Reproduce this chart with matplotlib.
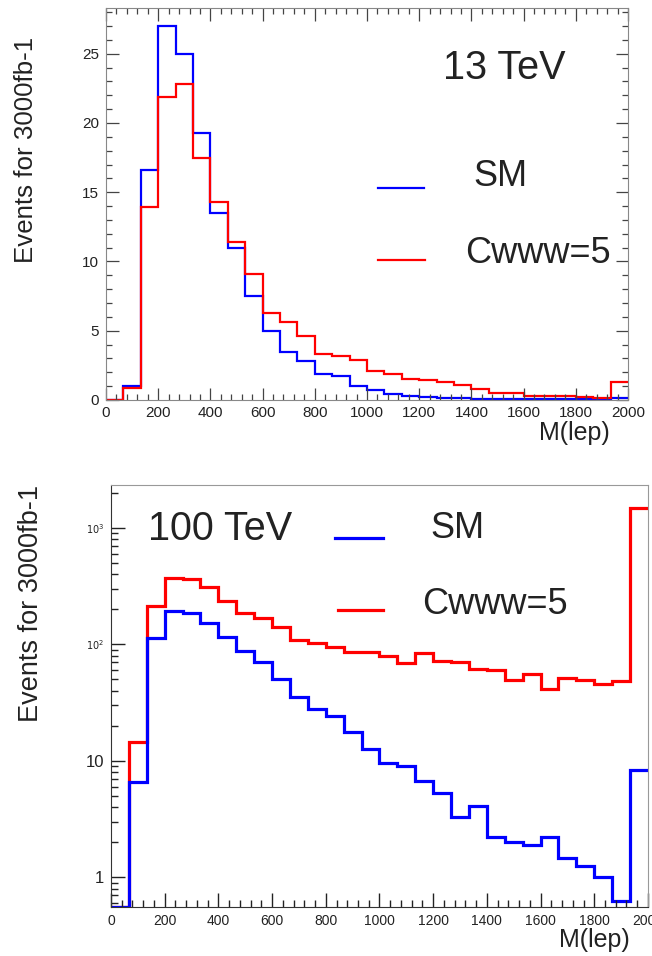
import numpy as np
import matplotlib
matplotlib.use('Agg')
from matplotlib import pyplot as plt
from matplotlib.ticker import MultipleLocator, NullFormatter

plt.rcParams['font.family'] = ['Liberation Sans', 'DejaVu Sans']

# 30 bins of M(lep) between 0 and 2000
edges = np.linspace(0, 2000, 31)

# 13 TeV, linear scale
sm_13 = [0, 1.0, 16.6, 27.0, 25.0, 19.3, 13.5, 11.0, 7.5, 5.0, 3.5, 2.8, 1.85, 1.7, 1.0,
         0.75, 0.45, 0.3, 0.22, 0.17, 0.13, 0.1, 0.08, 0.08, 0.07, 0.06, 0.05, 0.05, 0.05, 0.15]
cwww_13 = [0, 0.85, 13.9, 21.9, 22.8, 17.5, 14.3, 11.4, 9.1, 6.3, 5.6, 4.6, 3.3, 3.2, 2.9,
           2.1, 1.9, 1.55, 1.45, 1.3, 1.1, 0.8, 0.5, 0.5, 0.3, 0.3, 0.3, 0.25, 0.12, 1.3]

# 100 TeV, log scale
sm_100 = [0, 6.6, 114, 193, 187, 151, 116, 88, 70, 50, 35, 28, 24, 17.8, 12.6,
          9.5, 9.0, 6.7, 5.3, 3.3, 4.1, 2.2, 2.0, 1.9, 2.2, 1.46, 1.25, 1.0, 0.63, 8.3]
cwww_100 = [0, 14.6, 213, 373, 361, 309, 235, 185, 169, 140, 109, 103, 95, 86, 85,
            79, 69, 84, 72, 71, 61, 60, 49, 56, 41, 51, 49, 46, 48, 1470]

ylabel = 'Events for 3000fb-1'
xlabel = 'M(lep)'
txt = '#222222'
tk = '#444444'

fig = plt.figure(figsize=(6.52, 9.56), dpi=100)

# ---------------- top panel ----------------
ax1 = fig.add_axes([0.1626, 0.5816, 0.8006, 0.41])
ax1.stairs(sm_13, edges, color='#0000ff', lw=1.6, baseline=None)
ax1.stairs(cwww_13, edges, color='#ff0000', lw=1.6, baseline=None)
ax1.set_xlim(0, 2000)
ax1.set_ylim(0, 28.3)
ax1.xaxis.set_major_locator(MultipleLocator(200))
ax1.xaxis.set_minor_locator(MultipleLocator(40))
ax1.yaxis.set_major_locator(MultipleLocator(5))
ax1.yaxis.set_minor_locator(MultipleLocator(1))
ax1.tick_params(which='both', direction='in', top=True, right=True, color=tk, width=0.9)
ax1.tick_params(which='major', length=9)
ax1.tick_params(which='minor', length=4.5)
ax1.tick_params(axis='x', labelsize=11, labelcolor=txt, pad=4)
ax1.tick_params(axis='y', labelsize=11, labelcolor=txt, pad=5)
for s in ax1.spines.values():
    s.set_color('#888888')
ax1.set_ylabel(ylabel, fontsize=18.6, color=txt, ha='right', va='center')
ax1.yaxis.set_label_coords(-0.153, 0.926)
ax1.text(0.9655, -0.084, xlabel, transform=ax1.transAxes, fontsize=18, color=txt,
         ha='right', va='center')
ax1.text(0.646, 0.847, '13 TeV', transform=ax1.transAxes, fontsize=28.5, color=txt,
         ha='left', va='center')
ax1.plot([0.521, 0.609], [0.541, 0.541], transform=ax1.transAxes, color='#0000ff', lw=1.6)
ax1.plot([0.521, 0.611], [0.357, 0.357], transform=ax1.transAxes, color='#ff0000', lw=1.6)
ax1.text(0.703, 0.569, 'SM', transform=ax1.transAxes, fontsize=26, color=txt,
         ha='left', va='center')
ax1.text(0.688, 0.375, 'Cwww=5', transform=ax1.transAxes, fontsize=26, color=txt,
         ha='left', va='center')

# ---------------- bottom panel ----------------
ax2 = fig.add_axes([0.1702, 0.0513, 0.8236, 0.4414])
ymin = 0.556
# empty bins are drawn along the bottom of the frame, like ROOT does
ax2.stairs(np.where(np.array(cwww_100) > 0, cwww_100, ymin), edges, color='#ff0000',
           lw=2.3, baseline=None)
ax2.stairs(np.where(np.array(sm_100) > 0, sm_100, ymin), edges, color='#0000ff',
           lw=2.3, baseline=None)
ax2.set_yscale('log')
ax2.set_xlim(0, 2000)
ax2.set_ylim(ymin, 2330)
ax2.xaxis.set_major_locator(MultipleLocator(200))
ax2.xaxis.set_minor_locator(MultipleLocator(40))
ax2.set_yticks([1, 10, 100, 1000], labels=['1', '10', '$10^{2}$', '$10^{3}$'])
ax2.yaxis.set_minor_formatter(NullFormatter())
ax2.tick_params(which='both', direction='in', color='#222222', width=1.0)
ax2.tick_params(which='major', length=10)
ax2.tick_params(which='minor', length=5)
ax2.tick_params(axis='x', labelsize=10, labelcolor=txt, pad=5)
ax2.tick_params(axis='y', labelsize=12, labelcolor=txt, pad=5)
for lbl in ax2.get_yticklabels()[2:]:
    lbl.set_fontsize(7)
ax2.spines['left'].set_color('#333333')
ax2.spines['bottom'].set_color('#333333')
ax2.spines['top'].set_color('#999999')
ax2.spines['right'].set_color('#999999')
ax2.set_ylabel(ylabel, fontsize=19.5, color=txt, ha='right', va='center')
ax2.yaxis.set_label_coords(-0.149, 1.0)
ax2.text(0.9665, -0.078, xlabel, transform=ax2.transAxes, fontsize=18, color=txt,
         ha='right', va='center')
ax2.text(0.069, 0.896, '100 TeV', transform=ax2.transAxes, fontsize=28.5, color=txt,
         ha='left', va='center')
ax2.plot([0.417, 0.507], [0.874, 0.874], transform=ax2.transAxes, color='#0000ff', lw=2.3)
ax2.plot([0.423, 0.507], [0.704, 0.704], transform=ax2.transAxes, color='#ff0000', lw=2.3)
ax2.text(0.594, 0.898, 'SM', transform=ax2.transAxes, fontsize=26, color=txt,
         ha='left', va='center')
ax2.text(0.579, 0.716, 'Cwww=5', transform=ax2.transAxes, fontsize=26, color=txt,
         ha='left', va='center')

fig.savefig('out.png', dpi=100)
